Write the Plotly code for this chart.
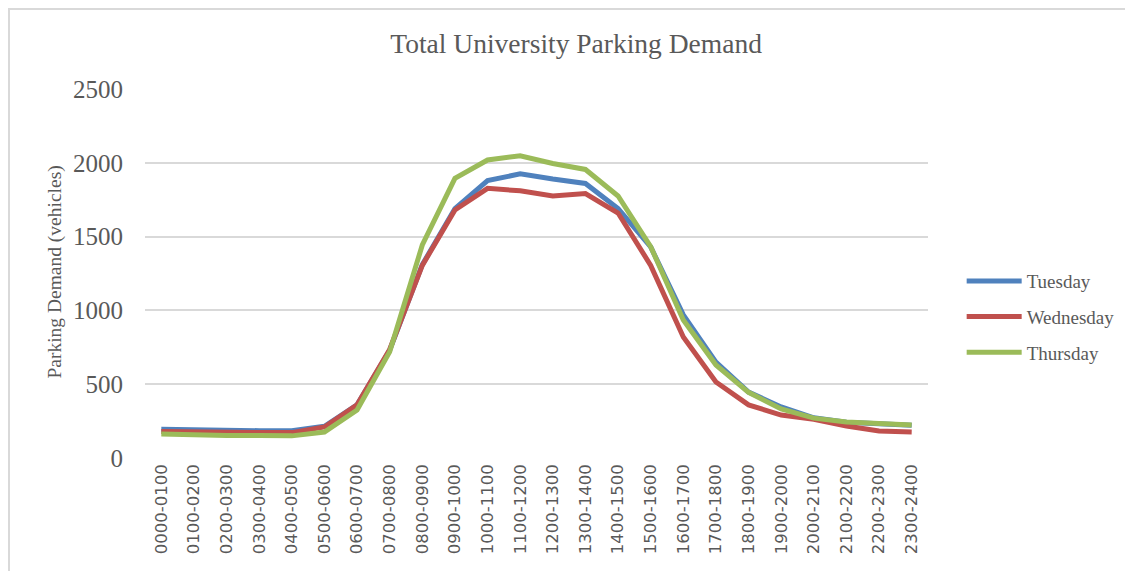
import plotly.graph_objects as go

categories = ["0000-0100", "0100-0200", "0200-0300", "0300-0400", "0400-0500", "0500-0600",
              "0600-0700", "0700-0800", "0800-0900", "0900-1000", "1000-1100", "1100-1200",
              "1200-1300", "1300-1400", "1400-1500", "1500-1600", "1600-1700", "1700-1800",
              "1800-1900", "1900-2000", "2000-2100", "2100-2200", "2200-2300", "2300-2400"]

tuesday = [195, 190, 185, 185, 185, 215, 360, 730, 1310, 1690, 1880, 1925,
           1890, 1860, 1690, 1430, 970, 650, 447, 346, 272, 242, 232, 222]
wednesday = [180, 175, 172, 172, 172, 210, 360, 735, 1305, 1680, 1827, 1810,
             1775, 1792, 1660, 1305, 820, 515, 360, 291, 262, 217, 183, 176]
thursday = [163, 155, 152, 152, 150, 176, 325, 720, 1443, 1895, 2019, 2048,
            1995, 1955, 1775, 1432, 935, 630, 445, 332, 270, 244, 237, 224]

series = [("Tuesday", tuesday, "#4F81BD"),
          ("Wednesday", wednesday, "#C0504D"),
          ("Thursday", thursday, "#9BBB59")]

fig = go.Figure()
for name, vals, col in series:
    fig.add_trace(go.Scatter(x=categories, y=vals, mode="lines", name=name,
                             legendgroup=name,
                             line=dict(color=col, width=5)))

serif = "Liberation Serif"
fig.update_layout(
    width=1125, height=563,
    paper_bgcolor="white", plot_bgcolor="white",
    margin=dict(l=137, r=205, t=81, b=113),
    title=dict(text="Total University Parking Demand", x=0.505, xanchor="center",
               y=0.938, yanchor="middle",
               font=dict(family=serif, size=27.5, color="#595959")),
    showlegend=True,
    legend=dict(x=1.043, y=0.382, xanchor="left", yanchor="middle",
                font=dict(family=serif, size=19, color="#595959"),
                tracegroupgap=8, itemwidth=55, bgcolor="rgba(0,0,0,0)"),
    xaxis=dict(type="category", range=[-0.5, len(categories) - 0.5],
               tickangle=-90, showgrid=False, showline=False,
               ticks="", tickfont=dict(family="DejaVu Sans", size=16.5, color="#595959"),
               ticklabelstandoff=2, zeroline=False),
    yaxis=dict(range=[0, 2500], dtick=500, showgrid=True, gridcolor="#D9D9D9",
               gridwidth=1.5, zeroline=False, showline=False, ticks="",
               tickfont=dict(family=serif, size=25, color="#595959"),
               ticklabelstandoff=21),
    annotations=[dict(text="Parking Demand (vehicles)", textangle=-90,
                      xref="paper", yref="paper", x=-0.115, y=0.505,
                      xanchor="center", yanchor="middle", showarrow=False,
                      font=dict(family=serif, size=19.5, color="#595959"))],
    shapes=[dict(type="path", xref="paper", yref="paper",
                 path="M -0.1737 -0.32 L -0.1737 1.2168 L 1.27 1.2168",
                 line=dict(color="#D9D9D9", width=2))],
)

fig.write_html("out.html")
